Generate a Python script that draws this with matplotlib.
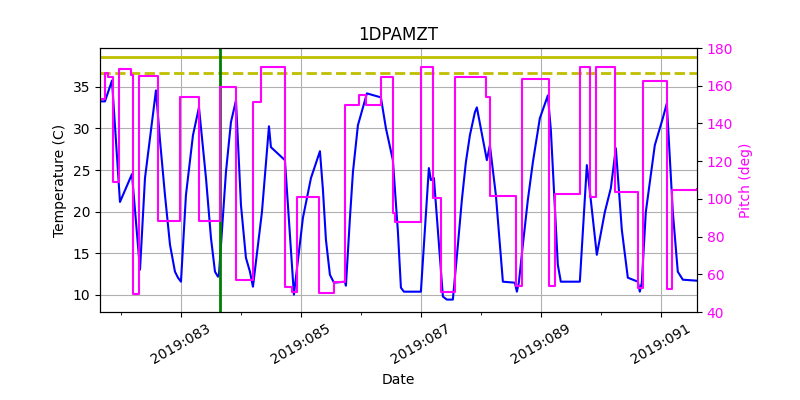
import matplotlib
matplotlib.use("Agg")
import matplotlib.pyplot as plt

# day of year 2019 (fractional) and temperature in C
temp_days = [81.650, 81.733, 81.850, 81.983, 82.183, 82.317, 82.400, 82.583, 82.650,
             82.733, 82.817, 82.900, 82.950, 83.000, 83.083, 83.200, 83.300, 83.417,
             83.500, 83.567, 83.617, 83.633, 83.750, 83.833, 83.917, 84.000, 84.083,
             84.150, 84.200, 84.350, 84.467, 84.500, 84.733, 84.883, 85.033, 85.167,
             85.317, 85.367, 85.417, 85.483, 85.550, 85.733, 85.750, 85.817, 85.867,
             85.950, 86.100, 86.333, 86.417, 86.533, 86.617, 86.667, 86.717, 87.000,
             87.133, 87.167, 87.217, 87.367, 87.433, 87.533, 87.617, 87.683, 87.750,
             87.817, 87.900, 87.933, 88.100, 88.150, 88.250, 88.367, 88.567, 88.600,
             88.633, 88.700, 88.783, 88.867, 88.983, 89.117, 89.167, 89.283, 89.333,
             89.650, 89.767, 89.800, 89.933, 90.067, 90.167, 90.250, 90.350, 90.450,
             90.617, 90.650, 90.683, 90.750, 90.900, 91.033, 91.100, 91.200, 91.283,
             91.367, 91.600]
temp_vals = [33.24, 33.24, 35.75, 21.16, 24.51, 13.03, 24.03, 34.56, 28.58,
             22.00, 16.02, 12.79, 12.07, 11.59, 22.00, 29.17, 32.52, 24.03,
             16.85, 12.79, 12.19, 12.43, 24.75, 30.73, 33.36, 20.80, 14.46,
             12.79, 10.99, 19.96, 30.25, 27.74, 26.18, 10.04, 19.25, 24.03,
             27.26, 22.60, 16.61, 12.43, 11.47, 11.59, 11.11, 19.25, 24.75,
             30.37, 34.20, 33.72, 30.01, 26.18, 17.57, 10.87, 10.39, 10.39,
             25.23, 23.79, 24.03, 9.80, 9.44, 9.44, 16.02, 21.40, 25.94,
             29.17, 31.93, 32.52, 26.18, 27.98, 22.00, 11.59, 11.47, 10.39,
             11.47, 16.02, 21.40, 25.94, 31.21, 33.96, 29.77, 13.62, 11.59,
             11.59, 25.59, 23.55, 14.82, 19.96, 22.83, 27.62, 17.81, 12.07,
             11.59, 10.39, 11.47, 19.96, 27.98, 31.21, 33.00, 19.96, 12.79,
             11.83, 11.71]

# pitch steps (start of each step) in deg
pitch_days = [81.650, 81.733, 81.783, 81.867, 81.975, 82.167, 82.200, 82.300, 82.617,
              82.983, 83.300, 83.650, 83.917, 84.200, 84.333, 84.733, 84.850, 84.933,
              85.300, 85.550, 85.733, 85.967, 86.083, 86.333, 86.533, 86.567, 87.000,
              87.200, 87.333, 87.567, 88.083, 88.150, 88.583, 88.683, 89.133, 89.233,
              89.650, 89.817, 89.917, 90.233, 90.617, 90.700, 91.100, 91.183, 91.600]
pitch_vals = [152.9, 166.7, 164.6, 108.9, 168.8, 165.7, 49.5, 165.1, 88.2,
              154.0, 88.2, 159.3, 57.0, 151.3, 169.9, 53.3, 50.6, 101.0,
              50.1, 55.9, 149.8, 155.1, 149.8, 164.6, 92.5, 87.7, 169.9,
              100.4, 50.6, 164.6, 154.0, 101.5, 53.8, 163.5, 53.8, 102.6,
              169.9, 101.0, 169.9, 103.6, 52.7, 162.5, 52.2, 104.7, 105.2]

planning_limit = 38.6
caution_limit = 36.6
now_day = 83.65
major_days = [83, 85, 87, 89, 91]
minor_days = [82, 84, 86, 88, 90]

fig, ax = plt.subplots(figsize=(8, 4), dpi=100)
fig.subplots_adjust(left=0.125, right=0.871, bottom=0.22, top=0.88)

ax.plot(temp_days, temp_vals, color='b', lw=1.5)
ax.axhline(planning_limit, color='y', lw=2)
ax.axhline(caution_limit, color='y', lw=2, ls='--')
ax.axvline(now_day, color='g', lw=2)
ax.set_xlim(81.65, 91.6)
ax.set_ylim(7.95, 39.65)
ax.set_xticks(major_days)
ax.set_xticks(minor_days, minor=True)
ax.set_xticklabels(['2019:%03d' % d for d in major_days], rotation=30)
ax.grid(True)
ax.set_title('1DPAMZT')
ax.set_xlabel('Date')
ax.set_ylabel('Temperature (C)')

ax2 = ax.twinx()
ax2.plot(pitch_days, pitch_vals, color='magenta', lw=1.5, drawstyle='steps-post')
ax2.set_ylim(40, 180)
ax2.set_ylabel('Pitch (deg)', color='magenta')
ax2.tick_params(axis='y', labelcolor='magenta')

fig.savefig('out.png')
